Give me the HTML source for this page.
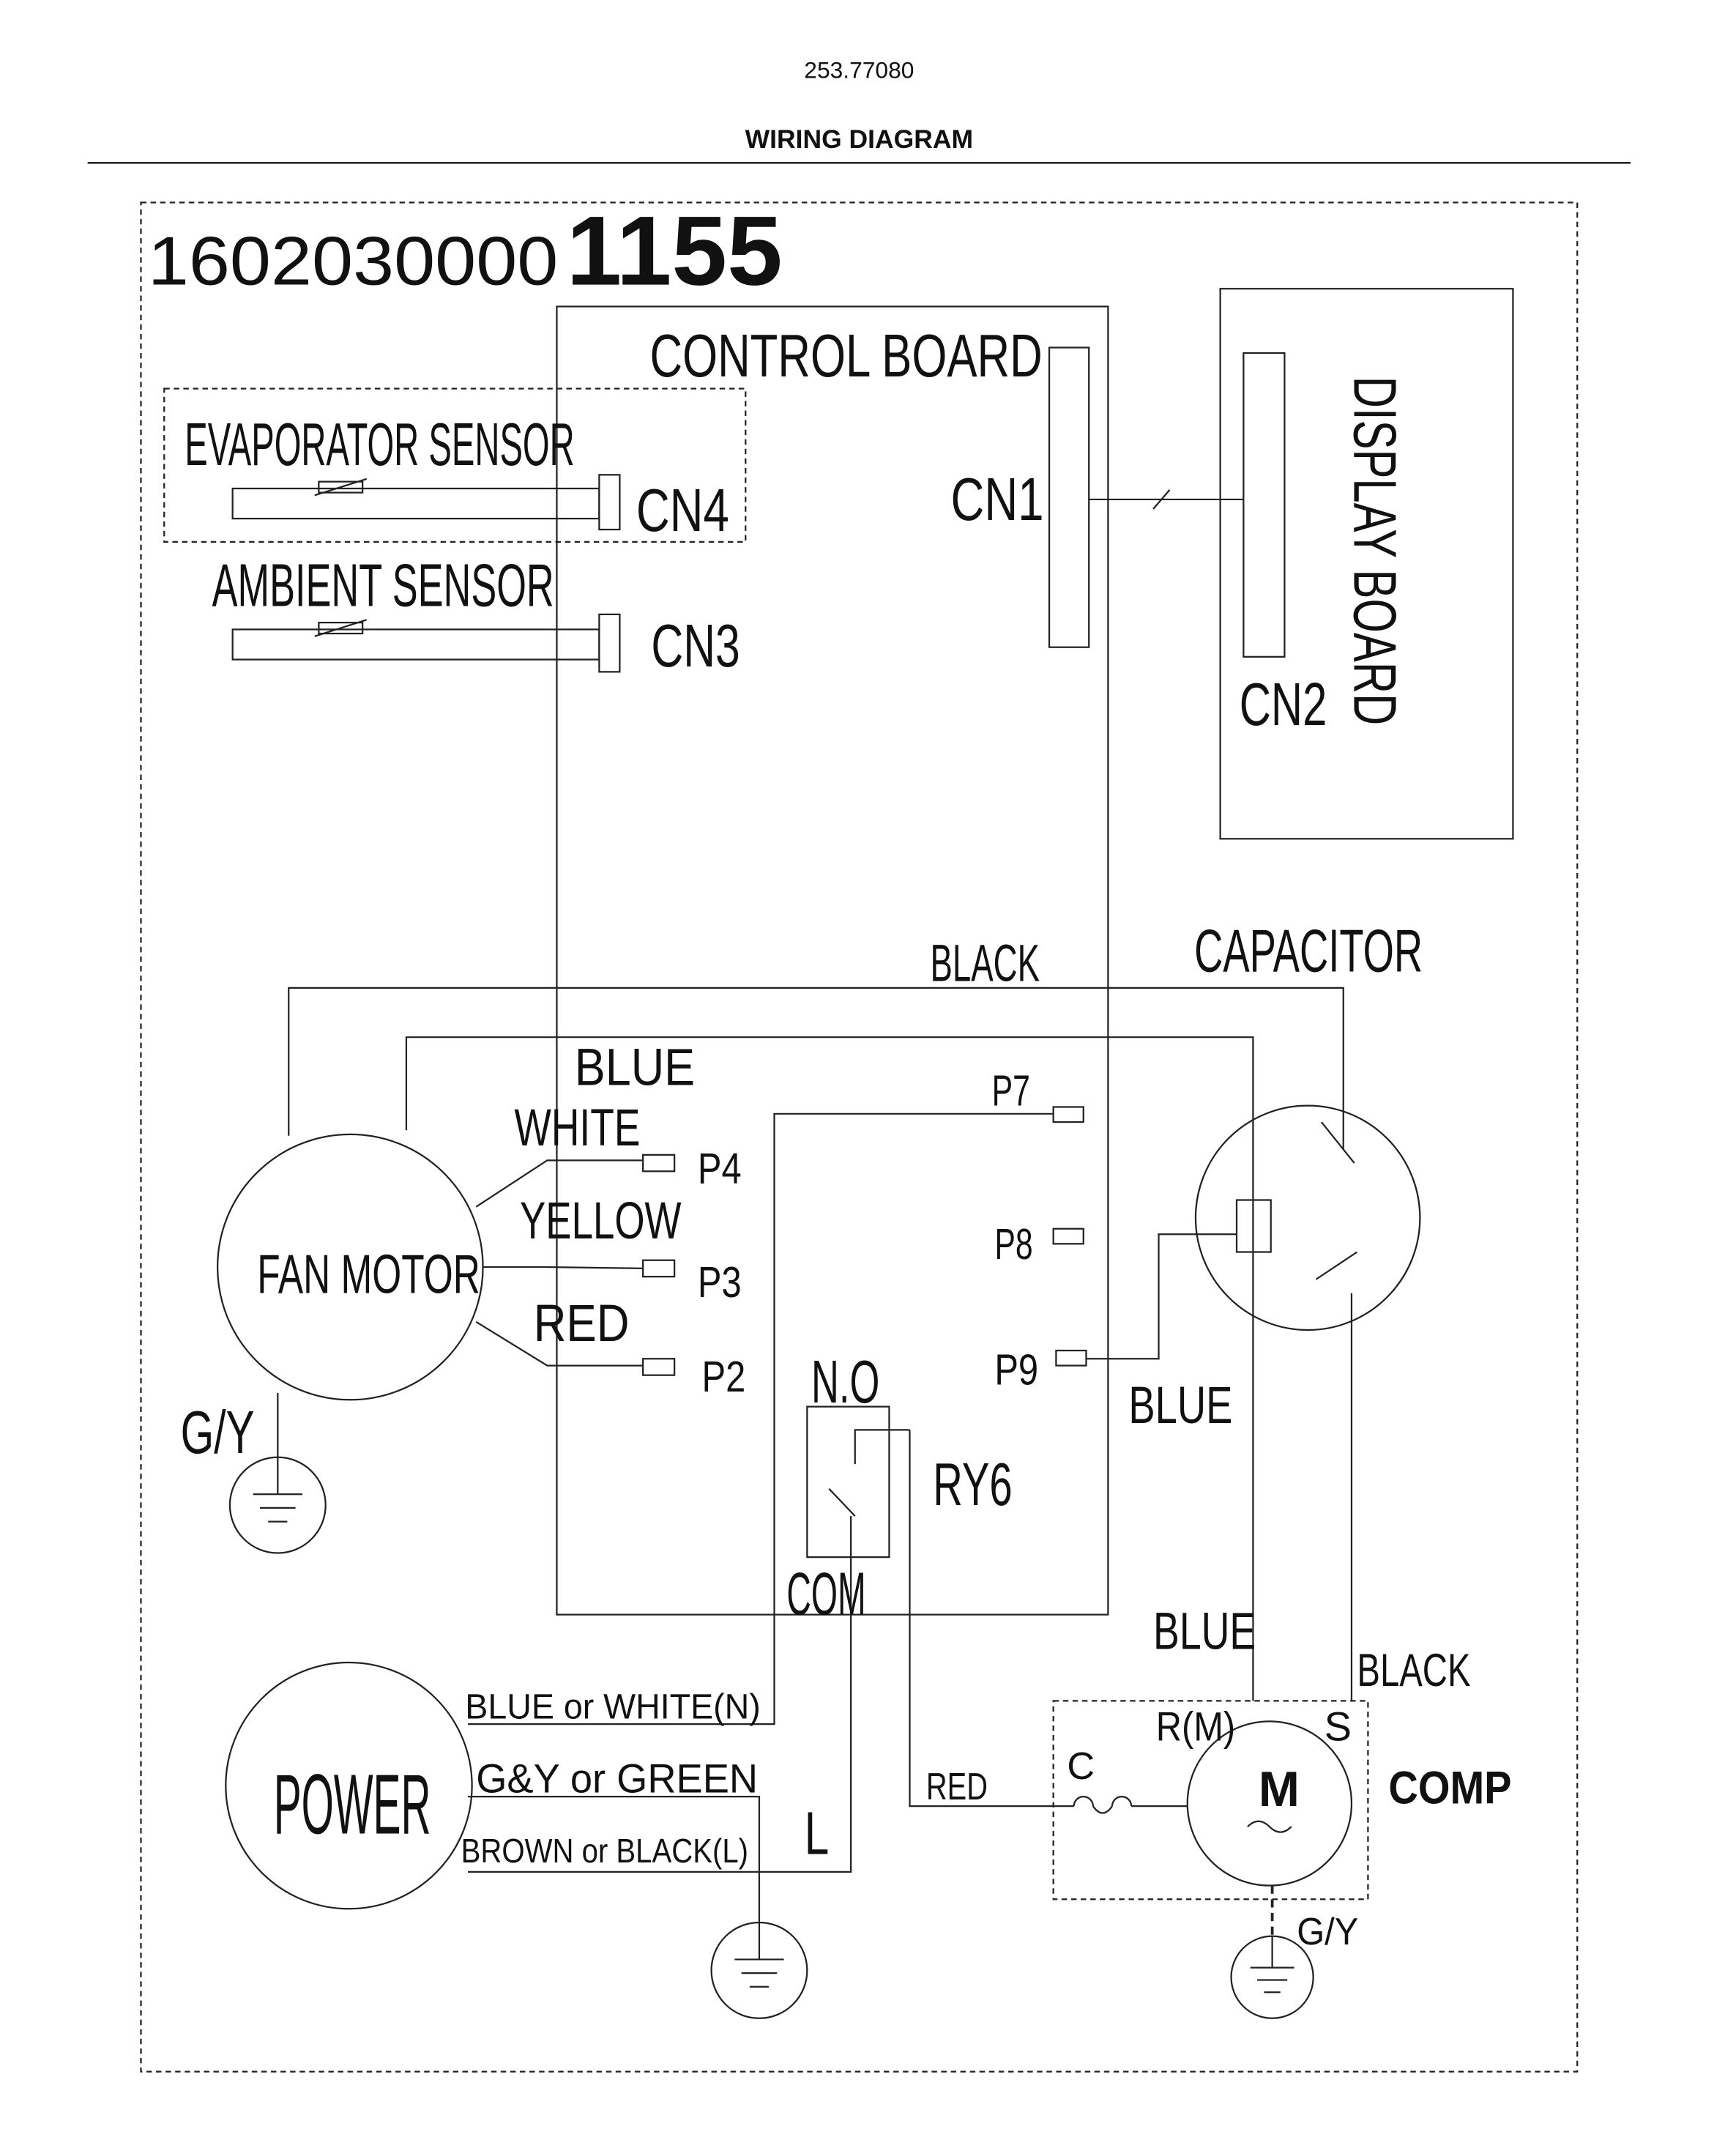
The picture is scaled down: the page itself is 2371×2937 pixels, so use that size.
<!DOCTYPE html>
<html><head><meta charset="utf-8"><style>
html,body{margin:0;padding:0;background:#fff}
svg{display:block}
text{font-family:"Liberation Sans",sans-serif;fill:#111}
.c{font-family:"Liberation Sans Narrow","Liberation Sans",sans-serif}
.s{font-family:"Liberation Serif",serif}
</style></head><body>
<svg width="2371" height="2937" viewBox="0 0 1269 1572" xmlns="http://www.w3.org/2000/svg">
<g fill="none" stroke="#222" stroke-width="1.2">
<line x1="64" y1="119" x2="1192" y2="119" stroke="#000"/>
<rect x="103" y="148" width="1050" height="1366" stroke-dasharray="4,3"/>
<rect x="407" y="224" width="403" height="956"/>
<rect x="767" y="254" width="29" height="219"/>
<rect x="892" y="211" width="214" height="402"/>
<rect x="909" y="258" width="30" height="222"/>
<line x1="796" y1="365" x2="909" y2="365"/>
<line x1="843" y1="372" x2="855" y2="358"/>
<rect x="120" y="284" width="425" height="112" stroke-dasharray="4,3"/>
<rect x="170" y="357" width="268" height="22"/>
<rect x="233" y="352" width="32" height="8"/><line x1="230" y1="362" x2="268" y2="350"/>
<rect x="438" y="347" width="15" height="40"/>
<rect x="170" y="460" width="268" height="22"/>
<rect x="233" y="455" width="32" height="8"/><line x1="230" y1="465" x2="268" y2="453"/>
<rect x="438" y="449" width="15" height="42"/>
<polyline points="211,830 211,722 982,722 982,840"/>
<polyline points="297,826 297,758 916,758 916,1243"/>
<circle cx="256" cy="926" r="97"/>
<polyline points="348,882 400,848 470,848"/><rect x="470" y="844" width="23" height="12"/>
<polyline points="353,926 400,926 470,927"/><rect x="470" y="921" width="23" height="12"/>
<polyline points="348,966 400,998 470,998"/><rect x="470" y="993" width="23" height="12"/>
<line x1="203" y1="1018" x2="203" y2="1065"/>
<circle cx="203" cy="1100" r="35"/>
<line x1="203" y1="1065" x2="203" y2="1092"/><line x1="185" y1="1092" x2="221" y2="1092"/><line x1="190" y1="1102" x2="216" y2="1102"/><line x1="196" y1="1112" x2="210" y2="1112"/>
<rect x="770" y="809" width="22" height="11"/>
<polyline points="770,814 566,814 566,1260 342,1260"/>
<rect x="770" y="898" width="22" height="11"/>
<rect x="772" y="987" width="22" height="11"/>
<polyline points="794,993 847,993 847,902 904,902"/>
<circle cx="956" cy="890" r="82"/>
<rect x="904" y="877" width="25" height="38"/>
<line x1="966" y1="820" x2="990" y2="850"/>
<line x1="962" y1="935" x2="992" y2="915"/>
<polyline points="988,945 988,1243"/>
<rect x="590" y="1028" width="60" height="110"/>
<polyline points="650,1045 625,1045 625,1070"/>
<line x1="606" y1="1088" x2="625" y2="1108"/>
<polyline points="665,1045 665,1320 785,1320"/>
<line x1="650" y1="1045" x2="665" y2="1045"/>
<polyline points="622,1108 622,1368 342,1368"/>
<circle cx="255" cy="1305" r="90"/>
<polyline points="342,1313 555,1313 555,1405"/>
<circle cx="555" cy="1440" r="35"/>
<line x1="555" y1="1405" x2="555" y2="1432"/><line x1="537" y1="1432" x2="573" y2="1432"/><line x1="542" y1="1442" x2="568" y2="1442"/><line x1="548" y1="1452" x2="562" y2="1452"/>
<rect x="770" y="1243" width="230" height="145" stroke-dasharray="4,3"/>
<circle cx="928" cy="1318" r="60"/>
<path d="M785,1320 A7,7 0 0 1 799,1320 M799,1320 Q806,1330 813,1320 M813,1320 A7,7 0 0 1 827,1320 M827,1320 L868,1320"/>
<path d="M912,1335 q8,-8 16,0 t16,0"/>
<line x1="930" y1="1378" x2="930" y2="1415" stroke-dasharray="6,4" stroke-width="2"/>
<circle cx="930" cy="1445" r="30"/>
<line x1="930" y1="1415" x2="930" y2="1438"/><line x1="914" y1="1438" x2="946" y2="1438"/><line x1="919" y1="1447" x2="941" y2="1447"/><line x1="924" y1="1456" x2="936" y2="1456"/>
</g>
<text x="628" y="57" font-size="17" text-anchor="middle">253.77080</text>
<text x="628" y="108" font-size="19" font-weight="bold" text-anchor="middle">WIRING DIAGRAM</text>
<text x="108" y="208" font-size="50" textLength="300" lengthAdjust="spacingAndGlyphs">1602030000</text>
<text x="414" y="208" font-size="72" font-weight="bold" textLength="158" lengthAdjust="spacingAndGlyphs">1155</text>
<g class="c" font-size="44">
<text x="475" y="275" textLength="287" lengthAdjust="spacingAndGlyphs">CONTROL BOARD</text>
<text x="695" y="380" textLength="68" lengthAdjust="spacingAndGlyphs">CN1</text>
<text x="906" y="530" textLength="64" lengthAdjust="spacingAndGlyphs">CN2</text>
<text transform="translate(990,275) rotate(90)" textLength="255" lengthAdjust="spacingAndGlyphs">DISPLAY BOARD</text>
<text x="135" y="340" textLength="285" lengthAdjust="spacingAndGlyphs">EVAPORATOR SENSOR</text>
<text x="465" y="388" textLength="68" lengthAdjust="spacingAndGlyphs">CN4</text>
<text x="155" y="443" textLength="250" lengthAdjust="spacingAndGlyphs">AMBIENT SENSOR</text>
<text x="476" y="487" textLength="65" lengthAdjust="spacingAndGlyphs">CN3</text>
<text x="873" y="710" textLength="167" lengthAdjust="spacingAndGlyphs">CAPACITOR</text>
<text x="188" y="945" font-size="40" textLength="163" lengthAdjust="spacingAndGlyphs">FAN MOTOR</text>
<text x="132" y="1062" textLength="54" lengthAdjust="spacingAndGlyphs">G/Y</text>
<text x="593" y="1025" textLength="50" lengthAdjust="spacingAndGlyphs">N.O</text>
<text x="682" y="1100" textLength="58" lengthAdjust="spacingAndGlyphs">RY6</text>
<text x="575" y="1180" textLength="58" lengthAdjust="spacingAndGlyphs">COM</text>
<text x="588" y="1355" textLength="18" lengthAdjust="spacingAndGlyphs">L</text>
</g>
<g class="c" font-size="38">
<text x="680" y="717" textLength="80" lengthAdjust="spacingAndGlyphs">BLACK</text>
<text x="420" y="793" textLength="88" lengthAdjust="spacingAndGlyphs">BLUE</text>
<text x="376" y="837" textLength="92" lengthAdjust="spacingAndGlyphs">WHITE</text>
<text x="380" y="905" textLength="118" lengthAdjust="spacingAndGlyphs">YELLOW</text>
<text x="390" y="980" textLength="70" lengthAdjust="spacingAndGlyphs">RED</text>
<text x="825" y="1040" textLength="76" lengthAdjust="spacingAndGlyphs">BLUE</text>
<text x="843" y="1205" textLength="75" lengthAdjust="spacingAndGlyphs">BLUE</text>
</g>
<g class="c" font-size="32">
<text x="725" y="808" textLength="28" lengthAdjust="spacingAndGlyphs">P7</text>
<text x="510" y="865" textLength="32" lengthAdjust="spacingAndGlyphs">P4</text>
<text x="727" y="920" textLength="28" lengthAdjust="spacingAndGlyphs">P8</text>
<text x="510" y="948" textLength="32" lengthAdjust="spacingAndGlyphs">P3</text>
<text x="727" y="1012" textLength="32" lengthAdjust="spacingAndGlyphs">P9</text>
<text x="513" y="1017" textLength="32" lengthAdjust="spacingAndGlyphs">P2</text>
<text x="677" y="1315" font-size="28" textLength="45" lengthAdjust="spacingAndGlyphs">RED</text>
<text x="780" y="1300" font-size="28">C</text>
<text x="845" y="1272" font-size="30" textLength="58" lengthAdjust="spacingAndGlyphs">R(M)</text>
<text x="968" y="1272" font-size="30">S</text>
</g>
<g class="s">
<text x="992" y="1232" font-size="34" textLength="83" lengthAdjust="spacingAndGlyphs">BLACK</text>
<text x="200" y="1340" font-size="62" textLength="115" lengthAdjust="spacingAndGlyphs">POWER</text>
<text x="340" y="1256" font-size="26" textLength="216" lengthAdjust="spacingAndGlyphs">BLUE or WHITE(N)</text>
<text x="348" y="1310" font-size="30" textLength="206" lengthAdjust="spacingAndGlyphs">G&amp;Y or GREEN</text>
<text x="337" y="1361" font-size="25" textLength="210" lengthAdjust="spacingAndGlyphs">BROWN or BLACK(L)</text>
<text x="948" y="1421" font-size="28" textLength="45" lengthAdjust="spacingAndGlyphs">G/Y</text>
</g>
<text x="920" y="1320" font-size="36" font-weight="bold">M</text>
<text x="1015" y="1318" font-size="34" font-weight="bold" textLength="90" lengthAdjust="spacingAndGlyphs">COMP</text>
</svg>
</body></html>
